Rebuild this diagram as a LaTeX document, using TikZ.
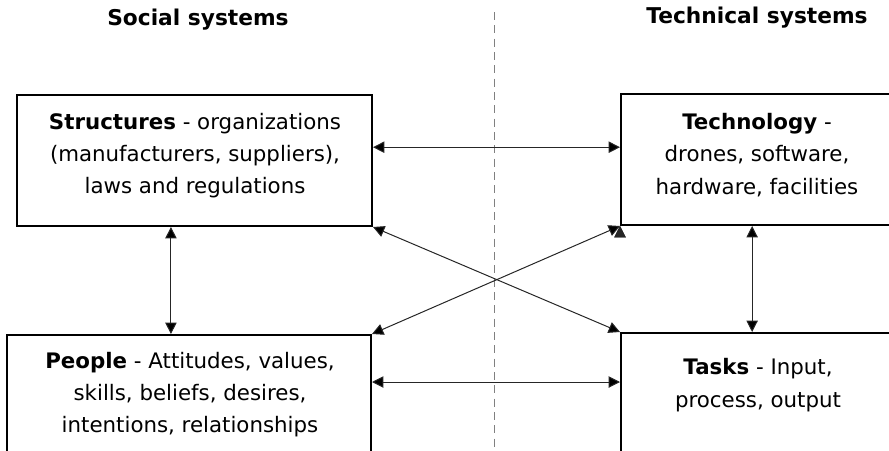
\documentclass[tikz,border=0pt]{standalone}
\usepackage{fontspec}
\setmainfont{DejaVu Sans}
\usetikzlibrary{arrows.meta,positioning,fit,calc}

\begin{document}
\begin{tikzpicture}[x=0.75pt,y=-0.75pt,>={Triangle[length=8.5pt,width=8.5pt]},
    box/.style={draw,line width=1.5pt,inner sep=0pt},
    txt/.style={align=center,font=\fontsize{16}{24.2}\selectfont},
    title/.style={font=\bfseries\fontsize{16.3}{18}\selectfont},
    link/.style={<->,line width=0.75pt,draw=black!85}]

    \useasboundingbox (0,0) rectangle (889,450);
    \clip (0,0) rectangle (889,450);

    % divider between the two sides
    \draw[gray,line width=0.6pt,dash pattern=on 6pt off 4pt] (494,12) -- (494,455);

    \node[title] (social) at (198,20) {Social systems};
    \node[title] (technical) at (757,18) {Technical systems};

    \node[box,fit={(17,95) (372,226)}] (struct) {};
    \node[box,fit={(621,94) (905,225)}] (tech) {};
    \node[box,fit={(7,335) (371,470)}] (people) {};
    \node[box,fit={(621,333) (905,470)}] (tasks) {};

    \node[txt] (structtxt) at (195,155.5) {\textbf{Structures} - organizations\\(manufacturers, suppliers),\\laws and regulations};
    \node[txt] (techtxt) at (757,155) {\textbf{Technology} -\\drones, software,\\hardware, facilities};
    \node[txt] (peopletxt) at (190,394.5) {\textbf{People} - Attitudes, values,\\skills, beliefs, desires,\\intentions, relationships};
    \node[txt] (taskstxt) at (758,385) {\textbf{Tasks} - Input,\\process, output};

    \coordinate (h1) at ($(struct.north east)!0.4!(struct.south east)$);
    \coordinate (h2) at ([yshift=-36pt]people.north east);
    \coordinate (v1) at ($(struct.south west)!0.434!(struct.south east)$);
    \coordinate (v2) at ($(tech.south west)!0.462!(tech.south east)$);

    \path[link] (h1) edge (h1 -| tech.west)
                (h2) edge (h2 -| tasks.west)
                (v1) edge (v1 |- people.north)
                (v2) edge (v2 |- tasks.north)
                (struct.south east) edge (tasks.north west)
                (tech.south west) edge (people.north east);
\end{tikzpicture}
\end{document}
